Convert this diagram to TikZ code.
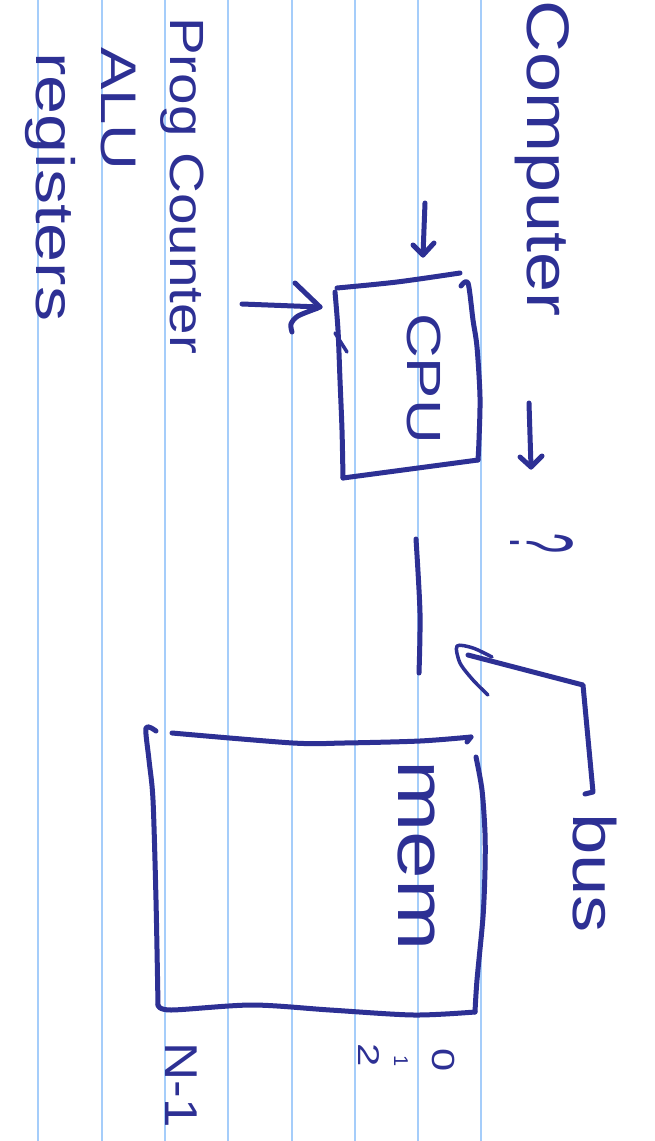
\documentclass[tikz,border=0pt]{standalone}
\usepackage{fontspec}
\setmainfont{Liberation Sans}
\usepackage{graphicx}
\definecolor{ink}{RGB}{45,48,148}
\definecolor{ruleblue}{RGB}{165,205,250}
\newcommand{\stretchx}[2]{\scalebox{#1}[1]{#2}}
\begin{document}
\begin{tikzpicture}[x=1pt,y=-1pt,
  inkline/.style={draw=ink, line width=5pt, line cap=round, line join=round},
  thinink/.style={draw=ink, line width=3.5pt, line cap=round, line join=round},
  txt/.style={text=ink, rotate=-90, anchor=base west, inner sep=0pt},
  paperline/.style={draw=ruleblue, line width=1.5pt}]
\useasboundingbox (0,0) rectangle (654,1141);
\fill[white] (0,0) rectangle (654,1141);
% notebook rules
\foreach \x in {38,102,165,228,292,355,418,481}
  \draw[paperline] (\x,0) -- (\x,1141);

% texts
\node[txt, font=\fontsize{60}{60}\selectfont] (computer) at (527,0) {\stretchx{1.2}{Computer}};
\node[txt, font=\fontsize{90}{90}\selectfont] (q) at (510,533) {\stretchx{0.4}{?}};
\node[txt, font=\fontsize{48}{48}\selectfont] (prog) at (170,17) {\stretchx{1.18}{Prog Counter}};
\node[txt, font=\fontsize{50}{50}\selectfont] (alu) at (101,47) {\stretchx{1.27}{ALU}};
\node[txt, font=\fontsize{54}{54}\selectfont] (reg) at (36,52) {\stretchx{1.3}{registers}};
\node[txt, font=\fontsize{48}{48}\selectfont] (cpu) at (407,313) {\stretchx{1.29}{CPU}};
\node[txt, font=\fontsize{68}{68}\selectfont] (mem) at (398,760) {\stretchx{1.26}{mem}};
\node[txt, font=\fontsize{60}{60}\selectfont] (bus) at (573,813) {\stretchx{1.24}{bus}};
\node[txt, font=\fontsize{32}{32}\selectfont] (addr0) at (432,1048) {\stretchx{1.3}{0}};
\node[txt, font=\fontsize{20}{20}\selectfont] (addr1) at (394,1055) {1};
\node[txt, font=\fontsize{30}{30}\selectfont] (addr2) at (358,1043) {\stretchx{1.4}{2}};
\node[txt, font=\fontsize{46}{46}\selectfont] (addrN) at (165,1042) {\stretchx{1.15}{N-1}};

% Computer -> arrow
\coordinate (ca1) at (529,403); \coordinate (ca2) at (531,467);
\draw[inkline] (ca1) -- (ca2);
\draw[inkline] (520,457) -- (ca2) -- (542,456);

% CPU box
\draw[inkline] plot[smooth] coordinates {(337,288) (397,282) (460,273)};
\draw[inkline] plot[smooth] coordinates {(461,286) (468,283) (473,320) (477,347) (480,397) (479,440) (478,460)};
\draw[inkline] plot[smooth] coordinates {(478,460) (403,470) (343,478)};
\draw[inkline] plot[smooth] coordinates {(335,292) (338,330) (340,380) (342,430) (343,478)};
\draw[thinink] (335,333) -- (347,352);

% arrow into CPU from top
\coordinate (ta1) at (425,203); \coordinate (ta2) at (423,255);
\draw[inkline] (ta1) -- (ta2);
\draw[inkline] (413,245) -- (ta2) -- (434,243);

% arrow into CPU from left
\coordinate (la1) at (242,304); \coordinate (la2) at (320,307);
\draw[inkline] (la1) -- (la2);
\draw[inkline] (295,283) -- (la2);
\draw[inkline] plot[smooth] coordinates {(318,308) (298,316) (291,324) (292,332)};

% bus connector between CPU and mem
\draw[inkline] plot[smooth] coordinates {(416,539) (420,613) (419,673)};

% bus label arrow
\coordinate (bc) at (583,685); \coordinate (bt) at (468,655);
\draw[inkline] (585,794) -- (593,792) -- (bc) -- (bt);
\draw[thinink] plot[smooth] coordinates {(492,657) (473,648) (457,646) (460,663) (473,680) (488,695)};

% mem box
\draw[inkline] plot[smooth] coordinates {(156,731) (146,728) (149,760) (153,800) (156,900) (158,1005)};
\draw[inkline] plot[smooth] coordinates {(158,1005) (171,1010) (252,1005) (330,1010) (414,1015) (475,1012)};
\draw[inkline] plot[smooth] coordinates {(476,757) (482,790) (485,833) (485,870) (483,917) (477,980) (475,1012)};
\draw[inkline] plot[smooth] coordinates {(172,733) (293,743) (344,743) (420,741) (471,737)};
\draw[inkline] (471,737) -- (467,742);
\end{tikzpicture}
\end{document}
